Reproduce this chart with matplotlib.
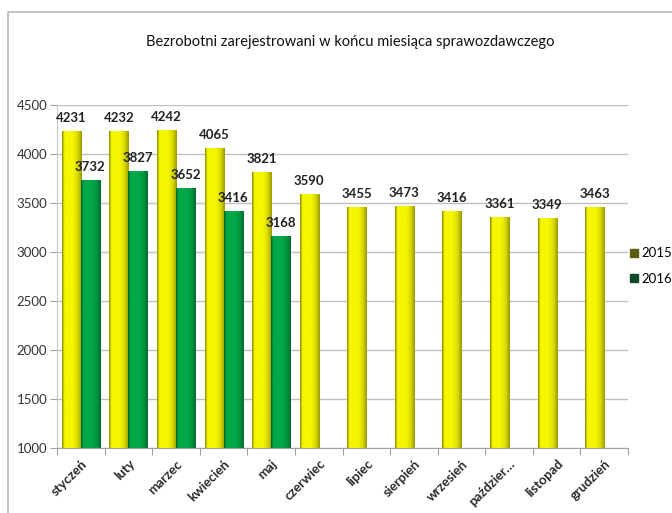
import numpy as np
import matplotlib
matplotlib.use("Agg")
import matplotlib.pyplot as plt
from matplotlib.lines import Line2D
from matplotlib.colors import to_rgb

plt.rcParams['font.family'] = ['Lato', 'DejaVu Sans']

# data
months = ['styczeń', 'luty', 'marzec', 'kwiecień', 'maj', 'czerwiec', 'lipiec',
          'sierpień', 'wrzesień', 'paździer…', 'listopad', 'grudzień']
y2015 = [4231, 4232, 4242, 4065, 3821, 3590, 3455, 3473, 3416, 3361, 3349, 3463]
y2016 = [3732, 3827, 3652, 3416, 3168]
title = 'Bezrobotni zarejestrowani w końcu miesiąca sprawozdawczego'

fig = plt.figure(figsize=(6.72, 5.13), dpi=100)
ax = fig.add_axes([57 / 672, 1 - 448 / 513, 571 / 672, 343 / 513])

x = np.arange(len(months))
w = 0.4
base = 1000
bars15 = ax.bar(x[:len(y2015)] - w / 2, np.array(y2015) - base, w, bottom=base,
                color='#eeee00', zorder=2)
bars16 = ax.bar(x[:len(y2016)] + w / 2, np.array(y2016) - base, w, bottom=base,
                color='#00a040', zorder=2)


def shade(bars, dark, bright):
    # horizontal gradient inside each bar, a bit like the Excel bevel
    t = np.linspace(0, 1, 64)
    f = np.interp(t, [0, 0.12, 0.55, 0.8, 1.0], [0.1, 1.0, 1.0, 0.75, 0.25])
    d, b = np.array(to_rgb(dark)), np.array(to_rgb(bright))
    img = (d[None, :] * (1 - f[:, None]) + b[None, :] * f[:, None])[None, :, :]
    for p in bars:
        x0, y0 = p.get_x(), p.get_y()
        im = ax.imshow(img, extent=[x0, x0 + p.get_width(), y0, y0 + p.get_height()],
                       aspect='auto', zorder=2.5, interpolation='bilinear')
        im.set_clip_path(p)


shade(bars15, '#7a7a00', '#f6f600')
shade(bars16, '#005a25', '#00a848')

for xi, v in zip(x, y2015):
    ax.annotate(str(v), (xi - w / 2, v), xytext=(0, 5), textcoords='offset points',
                ha='center', va='bottom', fontsize=9.5, fontweight='bold', color='#222222')
for xi, v in zip(x, y2016):
    ax.annotate(str(v), (xi + w / 2, v), xytext=(0, 5), textcoords='offset points',
                ha='center', va='bottom', fontsize=9.5, fontweight='bold', color='#222222')

ax.set_xlim(-0.5, len(months) - 0.5)
ax.set_ylim(1000, 4500)
ax.set_yticks(np.arange(1000, 4501, 500))
ax.grid(axis='y', color='#c0c0c0', linewidth=1, zorder=0)
ax.set_axisbelow(True)

ax.set_xticks(np.arange(len(months) + 1) - 0.5)
ax.set_xticklabels([])
ax.set_xticks(x, minor=True)
ax.set_xticklabels(months, minor=True, rotation=45, ha='right',
                   rotation_mode='anchor', fontsize=9.5, fontweight='bold',
                   color='#2a2a2a')
ax.tick_params(axis='x', which='minor', length=0, pad=7)
ax.tick_params(axis='x', which='major', length=5, color='#a0a0a0')
ax.tick_params(axis='y', length=5, color='#a0a0a0', labelsize=9.5, labelcolor='#333333', pad=2)

for s in ['top', 'right']:
    ax.spines[s].set_visible(False)
ax.spines['left'].set_color('#c8c8c8')
ax.spines['bottom'].set_color('#a0a0a0')

handles = [Line2D([], [], marker='s', linestyle='none', markersize=6, color='#5e5c10'),
           Line2D([], [], marker='s', linestyle='none', markersize=6, color='#0d4a2a')]
fig.legend(handles, ['2015', '2016'], loc='center left',
           bbox_to_anchor=(622 / 672, 1 - 266 / 513), frameon=False,
           fontsize=9.5, handlelength=0.8, handletextpad=0.2, labelspacing=1.0,
           borderpad=0)

fig.text(350 / 672, 1 - 42 / 513, title, ha='center', va='center', fontsize=10.5,
         color='#111111')

# outer chart border (only left and top visible in the crop)
fig.add_artist(Line2D([7.5 / 672, 7.5 / 672, 1], [0, 1 - 12 / 513, 1 - 12 / 513],
                      transform=fig.transFigure, color='#b8b8b8', linewidth=1.2))

fig.savefig('out.png', dpi=100)
